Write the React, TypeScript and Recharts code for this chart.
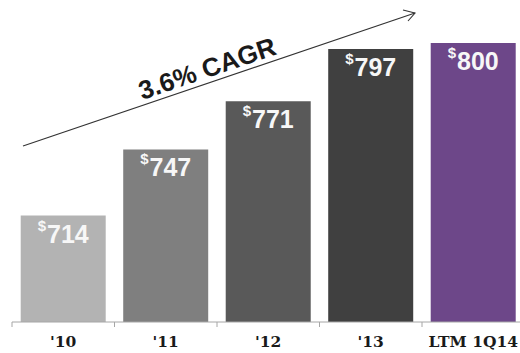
import React from 'react'
import { BarChart, Bar, XAxis, YAxis, Cell, LabelList } from 'recharts'

// Revenue by period ($M)
const periods = ["'10", "'11", "'12", "'13", 'LTM 1Q14']
const revenue = [714, 747, 771, 797, 800]
const cagrLabel = '3.6% CAGR'

const barColors = ['#b3b3b3', '#7f7f7f', '#595959', '#404040', '#6d4789']

const CHART_W = 530
const CHART_H = 353
const MARGIN = { top: 41, right: 5.5, bottom: 0, left: 12 }
const BAND = (CHART_W - MARGIN.left - MARGIN.right) / periods.length

const data = periods.map((period, i) => ({ period, revenue: revenue[i] }))

const PeriodTick = (props: any) => {
  const { x, y, payload } = props
  const edge = x - BAND / 2
  return (
    <g>
      <line x1={edge} x2={edge} y1={y} y2={y + 5} stroke="#a6a6a6" strokeWidth={1} />
      <text
        x={x}
        y={y + 25}
        textAnchor="middle"
        fill="#1a1a1a"
        fontFamily="'DejaVu Serif', serif"
        fontWeight="bold"
        fontSize={15.5}
      >
        {payload.value}
      </text>
    </g>
  )
}

const renderValue = (props: any) => {
  const { x, y, width, value } = props
  const cx = Number(x) + Number(width) / 2
  const top = Number(y)
  return (
    <text
      x={cx}
      y={top + 15}
      textAnchor="middle"
      fill="#f7f7f7"
      fontFamily="'Liberation Sans', Arial, sans-serif"
      fontWeight="bold"
    >
      <tspan fontSize={15}>$</tspan>
      <tspan fontSize={25} dx={1} dy={12}>{value}</tspan>
    </text>
  )
}

export default function App() {
  return (
    <div style={{ position: 'absolute', left: 0, top: 0, width: 520, height: CHART_H, overflow: 'hidden', background: '#fff' }}>
      <BarChart width={CHART_W} height={CHART_H} data={data} margin={MARGIN} barCategoryGap="8.5%">
        <XAxis
          dataKey="period"
          height={CHART_H - 322}
          axisLine={{ stroke: '#a6a6a6' }}
          tickLine={false}
          tickSize={0}
          tickMargin={0}
          interval={0}
          tick={<PeriodTick />}
        />
        <YAxis hide domain={[661, 801]} allowDataOverflow />
        <Bar dataKey="revenue" isAnimationActive={false}>
          {data.map((d, i) => (
            <Cell key={d.period} fill={barColors[i]} />
          ))}
          <LabelList dataKey="revenue" content={renderValue} />
        </Bar>
      </BarChart>

      {/* growth arrow annotation */}
      <svg width={520} height={CHART_H} style={{ position: 'absolute', left: 0, top: 0, pointerEvents: 'none' }}>
        <line x1={23} y1={146} x2={415} y2={13} stroke="#333" strokeWidth={1.1} />
        <polyline points="403,10 415,13 408,21" fill="none" stroke="#333" strokeWidth={1.1} />
        <text
          x={210}
          y={77}
          transform="rotate(-18.7 210 77)"
          textAnchor="middle"
          fill="#1a1a1a"
          fontFamily="'Liberation Sans', Arial, sans-serif"
          fontWeight="bold"
          fontSize={26}
        >
          {cagrLabel}
        </text>
      </svg>
    </div>
  )
}
